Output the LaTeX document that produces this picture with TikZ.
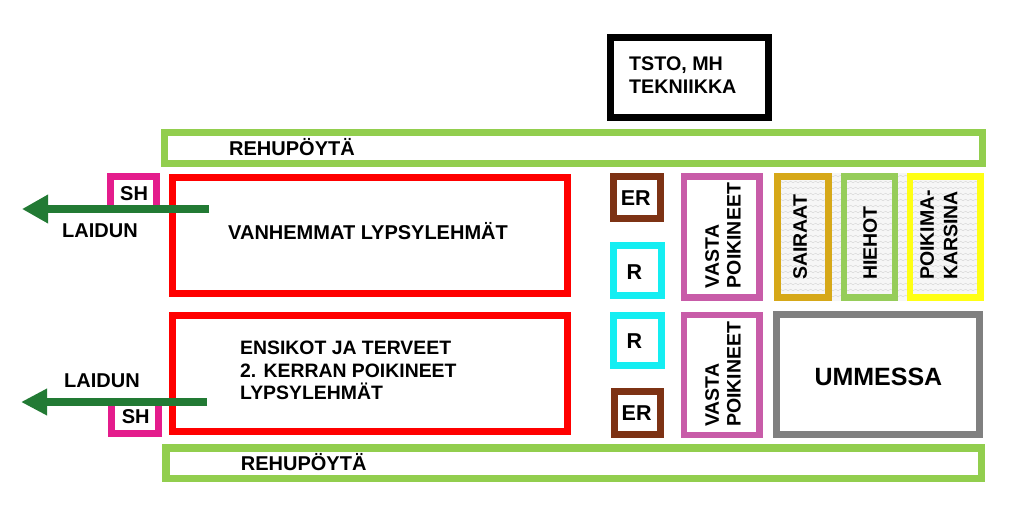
\documentclass[tikz,border=0pt]{standalone}
\usepackage{fontspec}
\setmainfont{Liberation Sans}
\usetikzlibrary{arrows.meta,decorations.pathmorphing}
\definecolor{rehu}{RGB}{146,206,78}
\definecolor{pinkSH}{RGB}{228,28,140}
\definecolor{arrowgreen}{RGB}{34,122,52}
\definecolor{brownER}{RGB}{125,50,20}
\definecolor{cyanR}{RGB}{20,238,242}
\definecolor{orchid}{RGB}{200,92,168}
\definecolor{gold}{RGB}{214,168,24}
\definecolor{lgreen}{RGB}{150,205,90}
\definecolor{yel}{RGB}{255,255,20}
\definecolor{ummgray}{RGB}{128,128,128}
\begin{document}
\begin{tikzpicture}[x=1pt,y=-1pt,
  box/.style={line width=7pt},
  lbl/.style={inner sep=0pt, font=\bfseries\fontsize{20}{23}\selectfont},
  small/.style={inner sep=0pt, font=\bfseries\fontsize{21.5}{23}\selectfont},
  vlbl/.style={lbl, rotate=90, anchor=north west, align=left},
  flow/.style={draw=arrowgreen, line width=8pt, -{Triangle[length=26pt,width=27pt]}},
  wave/.style={draw=gray!32, line width=0.4pt, decorate, decoration={snake, amplitude=0.8pt, segment length=5pt}}
]
\useasboundingbox (0,0) rectangle (1023,520);
\fill[white] (0,0) rectangle (1023,520);

% texture behind the right pens
\fill[gray!7] (774,173) rectangle (984,301);
\begin{scope}
  \clip (774,173) rectangle (984,301);
  \foreach \yy in {176,182,...,300} {
    \draw[wave] (774,\yy) -- (984,\yy);
  }
\end{scope}

% technique room
\draw[box, draw=black] (610.7,37.4) rectangle (768.3,117.6);
\node[lbl, anchor=north west, align=left, font=\bfseries\fontsize{19.7}{23}\selectfont] (tsto) at (629,57) {TSTO, MH\\TEKNIIKKA};

% feeding tables
\draw[box, draw=rehu] (164.5,132.8) rectangle (982.2,163.5);
\node[lbl, anchor=base west] (rehu1) at (229,155) {REHUPÖYTÄ};
\draw[box, draw=rehu, line width=7.5pt] (166,448) rectangle (981.7,478.6);
\node[lbl, anchor=base west] (rehu2) at (240.7,470) {REHUPÖYTÄ};

% milking cow pens
\draw[box, draw=red] (172.5,177.5) rectangle (567.5,293.2);
\node[lbl, anchor=base west] (vanh) at (228,239) {VANHEMMAT LYPSYLEHMÄT};
\draw[box, draw=red] (172.5,315.2) rectangle (567.5,431.5);
\node[lbl, anchor=north west, align=left, font=\bfseries\fontsize{19.4}{22.5}\selectfont] (ensi) at (240,341) {ENSIKOT JA TERVEET\\2. KERRAN POIKINEET\\LYPSYLEHMÄT};

% SH boxes
\draw[box, draw=pinkSH] (110.5,176.5) rectangle (156.5,208);
\node[lbl, anchor=base west] (sh1) at (120,200) {SH};
\draw[box, draw=pinkSH] (111.5,402) rectangle (158.5,433.5);
\node[lbl, anchor=base west] (sh2) at (121.7,423.3) {SH};

% pasture arrows
\coordinate (a1s) at (209,209);
\coordinate (a1e) at (22,209);
\coordinate (a2s) at (207,402);
\coordinate (a2e) at (21,402);
\draw[flow] (a1s) -- (a1e);
\draw[flow, -{Triangle[length=26pt,width=25pt]}] (a2s) -- (a2e);
\node[lbl, anchor=base west] (laid1) at (62,237) {LAIDUN};
\node[lbl, anchor=base west] (laid2) at (64,387) {LAIDUN};

% ER / R boxes
\draw[box, draw=brownER] (613.5,176.8) rectangle (660.5,218.8);
\node[small, anchor=base west] (er1) at (620.7,205.6) {ER};
\draw[box, draw=cyanR] (613.5,245.2) rectangle (661.5,295.8);
\node[small, anchor=base west] (r1) at (626.5,279.3) {R};
\draw[box, draw=cyanR] (613.5,315.2) rectangle (661.5,365.8);
\node[small, anchor=base west] (r2) at (626.5,348.3) {R};
\draw[box, draw=brownER] (614,391.8) rectangle (660.5,434.8);
\node[small, anchor=base west] (er2) at (621.5,420.7) {ER};

% freshly calved
\draw[box, draw=orchid, line width=6.7pt] (684,176.7) rectangle (759.3,297.7);
\node[vlbl, font=\bfseries\fontsize{19.5}{21.7}\selectfont] (vasta1) at (705,288.3) {VASTA\\POIKINEET};
\draw[box, draw=orchid, line width=6.7pt] (684,315) rectangle (759.3,435);
\node[vlbl, font=\bfseries\fontsize{19.5}{21.7}\selectfont] (vasta2) at (705,427) {VASTA\\POIKINEET};

% right pens
\draw[box, draw=gold, line width=6.7pt] (777.3,176.7) rectangle (828.3,297.7);
\node[vlbl, font=\bfseries\fontsize{19.5}{23}\selectfont] (sair) at (793,280) {SAIRAAT};
\draw[box, draw=lgreen, line width=6.5pt] (844.2,176.7) rectangle (895,297.7);
\node[vlbl, font=\bfseries\fontsize{19.5}{23}\selectfont] (hieh) at (863,280) {HIEHOT};
\draw[box, draw=yel, line width=6.5pt] (910,176.7) rectangle (980.7,297.7);
\node[vlbl, font=\bfseries\fontsize{19.5}{23.5}\selectfont] (poik) at (920,280) {POIKIMA-\\KARSINA};

% dry cows
\draw[box, draw=ummgray] (776.8,314.5) rectangle (979.8,434.8);
\node[lbl, anchor=base west, font=\bfseries\fontsize{25}{28}\selectfont] (umm) at (814.3,385) {UMMESSA};
\end{tikzpicture}
\end{document}
